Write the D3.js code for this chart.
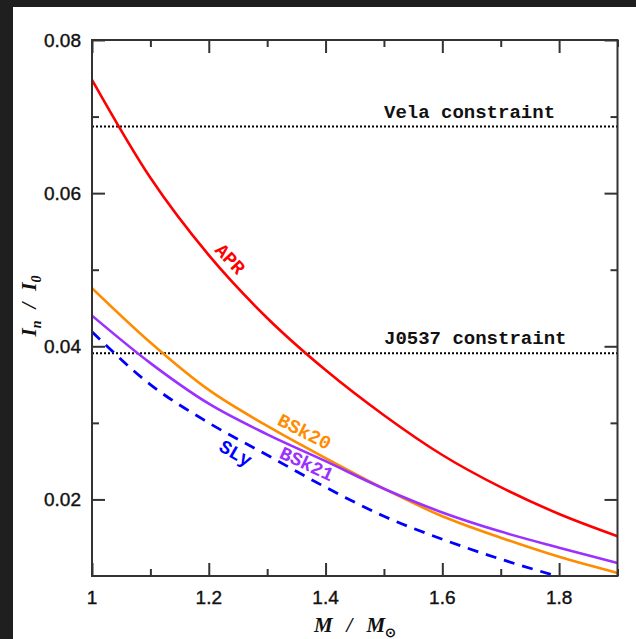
<!DOCTYPE html>
<html><head><meta charset="utf-8">
<script src="https://cdn.jsdelivr.net/npm/d3@7"></script>
<style>html,body{margin:0;padding:0;background:#1f1f1f;}svg{display:block;}</style>
</head><body>
<script>
// ---- data ----
const massGrid = [1.0, 1.1, 1.2, 1.3, 1.4, 1.5, 1.6, 1.7, 1.8, 1.9];
const aprVals   = [0.0748, 0.0620, 0.0519, 0.0437, 0.0369, 0.0310, 0.0258, 0.0216, 0.0181, 0.0152];
const bsk20Vals = [0.0476, 0.0405, 0.0343, 0.0296, 0.0254, 0.0214, 0.0178, 0.0150, 0.0125, 0.0104];
const bsk21Vals = [0.0440, 0.0378, 0.0325, 0.0285, 0.0250, 0.0214, 0.0183, 0.0158, 0.0137, 0.0117];
const slyMass   = [1.0, 1.1, 1.2, 1.3, 1.4, 1.5, 1.6, 1.7, 1.8];
const slyVals   = [0.0419, 0.0350, 0.0300, 0.0258, 0.0216, 0.0178, 0.0148, 0.0122, 0.0099];
const constraintNames = ["Vela constraint", "J0537 constraint"];
const constraintVals  = [0.0687, 0.0391];
const xTickMajor = [1, 1.2, 1.4, 1.6, 1.8];
const xTickMinor = [1.1, 1.3, 1.5, 1.7, 1.9];
const yTickMajor = [0.02, 0.04, 0.06, 0.08];
const yTickMinor = [0.03, 0.05, 0.07];

const W = 636, H = 639;
const svg = d3.select("body").append("svg").attr("width", W).attr("height", H);
svg.append("rect").attr("x", 13).attr("y", 7).attr("width", W - 13).attr("height", H - 7).attr("fill", "#fff");

const L = 92, R = 617.5, T = 40, B = 576;
const x = d3.scaleLinear().domain([1, 1.9]).range([L, R]);
const y = d3.scaleLinear().domain([0.01, 0.08]).range([B, T]);

svg.append("clipPath").attr("id", "pc").append("rect")
  .attr("x", L).attr("y", T).attr("width", R - L).attr("height", B - T);
const plot = svg.append("g").attr("clip-path", "url(#pc)");

const monoFont = "'Liberation Mono','DejaVu Sans Mono',monospace";

// constraints
constraintVals.forEach((v, i) => {
  plot.append("line").attr("x1", L).attr("x2", R).attr("y1", y(v)).attr("y2", y(v))
    .attr("stroke", "#000").attr("stroke-width", 2).attr("stroke-dasharray", "2,2");
  svg.append("text").attr("x", 384).attr("y", y(v) - 9)
    .attr("font-family", monoFont)
    .attr("font-size", 19).attr("font-weight", "bold").attr("fill", "#111")
    .text(constraintNames[i]);
});

const line = d3.line().x(d => x(d[0])).y(d => y(d[1])).curve(d3.curveMonotoneX);
function draw(ms, vs, color, dash, w) {
  const p = plot.append("path").datum(ms.map((m, i) => [m, vs[i]]))
    .attr("d", line).attr("fill", "none").attr("stroke", color).attr("stroke-width", w);
  if (dash) p.attr("stroke-dasharray", dash);
}
draw(massGrid, bsk20Vals, "#ff8c00", null, 2.6);
draw(massGrid, bsk21Vals, "#9b30ff", null, 2.6);
draw(slyMass, slyVals, "#0000ff", "11,8", 2.8);
draw(massGrid, aprVals, "#ff0000", null, 2.6);

// curve labels
const labelText  = ["APR", "BSk20", "BSk21", "SLy"];
const labelMass  = [1.235, 1.363, 1.367, 1.245];
const labelVal   = [0.0513, 0.0287, 0.0245, 0.0259];
const labelColor = ["#ff0000", "#ff8c00", "#9b30ff", "#0000ff"];
const labelAngle = [47, 27, 25, 30];
labelText.forEach((t, i) => {
  svg.append("text")
    .attr("transform", `translate(${x(labelMass[i])},${y(labelVal[i])}) rotate(${labelAngle[i]})`)
    .attr("text-anchor", "middle").attr("dominant-baseline", "central")
    .attr("font-family", monoFont)
    .attr("font-size", 19).attr("font-weight", "bold").attr("fill", labelColor[i]).text(t);
});

// frame
svg.append("rect").attr("x", L).attr("y", T).attr("width", R - L).attr("height", B - T)
  .attr("fill", "none").attr("stroke", "#333").attr("stroke-width", 2);

function ticks(axisGen, vals, len, transform) {
  const g = svg.append("g").attr("transform", transform)
    .call(axisGen.tickValues(vals).tickSize(len).tickFormat(""));
  g.select(".domain").remove();
  g.selectAll("line").attr("stroke", "#333").attr("stroke-width", 2);
}
ticks(d3.axisTop(x), xTickMajor, 13, `translate(0,${B})`);
ticks(d3.axisTop(x), xTickMinor, 7, `translate(0,${B})`);
ticks(d3.axisBottom(x), xTickMajor, 13, `translate(0,${T})`);
ticks(d3.axisBottom(x), xTickMinor, 7, `translate(0,${T})`);
ticks(d3.axisRight(y), yTickMajor, 13, `translate(${L},0)`);
ticks(d3.axisRight(y), yTickMinor, 7, `translate(${L},0)`);
ticks(d3.axisLeft(y), yTickMajor, 13, `translate(${R},0)`);
ticks(d3.axisLeft(y), yTickMinor, 7, `translate(${R},0)`);

// tick labels
const fmtX = d => (d === 1 ? "1" : d3.format(".1f")(d));
svg.append("g").selectAll("text").data(xTickMajor).join("text")
  .attr("x", d => x(d)).attr("y", 604).attr("text-anchor", "middle")
  .attr("font-family", "'Liberation Sans',Arial,sans-serif").attr("font-size", 19)
  .attr("fill", "#111").attr("stroke", "#111").attr("stroke-width", 0.4).text(fmtX);
svg.append("g").selectAll("text").data(yTickMajor).join("text")
  .attr("x", 81).attr("y", d => y(d)).attr("dy", "0.35em").attr("text-anchor", "end")
  .attr("font-family", "'Liberation Sans',Arial,sans-serif").attr("font-size", 19)
  .attr("fill", "#111").attr("stroke", "#111").attr("stroke-width", 0.4)
  .text(d => d3.format(".2f")(d));

// axis titles
const serif = "'Liberation Serif','Times New Roman',serif";
const xt = svg.append("text").attr("x", 355).attr("y", 632).attr("text-anchor", "middle")
  .attr("xml:space", "preserve")
  .attr("font-family", serif).attr("font-size", 21)
  .attr("font-style", "italic").attr("font-weight", "bold").attr("fill", "#111");
xt.append("tspan").text("M");
xt.append("tspan").attr("dx", 14).text("/");
xt.append("tspan").attr("dx", 14).text("M");
xt.append("tspan").attr("dy", 5).attr("font-size", 13).attr("font-style", "normal").text("⊙");

const yt = svg.append("text").attr("transform", "translate(36,306) rotate(-90)")
  .attr("text-anchor", "middle")
  .attr("font-family", serif).attr("font-size", 21)
  .attr("font-style", "italic").attr("font-weight", "bold").attr("fill", "#111");
yt.append("tspan").text("I");
yt.append("tspan").attr("dy", 5).attr("font-size", 14).text("n");
yt.append("tspan").attr("dy", -5).attr("dx", 12).text("/");
yt.append("tspan").attr("dx", 12).text("I");
yt.append("tspan").attr("dy", 5).attr("font-size", 14).text("0");
</script>
</body></html>
